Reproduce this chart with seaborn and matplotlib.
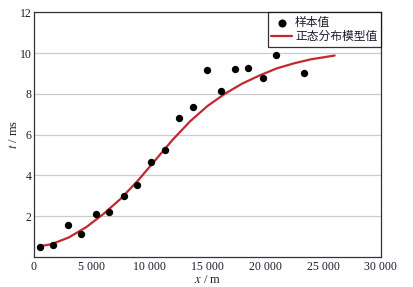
import matplotlib
matplotlib.use("Agg")
import matplotlib.pyplot as plt
import seaborn as sns
import pandas as pd

# Sample values
sample_x = [520, 1670, 2910, 4100, 5340, 6520, 7760, 8910, 10150, 11340,
            12550, 13730, 14970, 16150, 17370, 18550, 19790, 20940, 23360]
sample_t = [0.47, 0.57, 1.57, 1.13, 2.11, 2.19, 3.0, 3.51, 4.64, 5.24,
            6.81, 7.35, 9.18, 8.13, 9.21, 9.27, 8.77, 9.91, 9.01]

# Normal distribution model curve
model_x = [500, 1500, 3000, 4500, 6000, 7500, 9000, 10500, 12000, 13500,
           15000, 16500, 18000, 19500, 21000, 22500, 24000, 26000]
model_t = [0.52, 0.62, 0.95, 1.45, 2.1, 2.85, 3.75, 4.75, 5.75, 6.65,
           7.4, 8.0, 8.5, 8.9, 9.25, 9.5, 9.7, 9.88]

x_ticks = [0, 5000, 10000, 15000, 20000, 25000, 30000]
x_tick_labels = ["0", "5 000", "10 000", "15 000", "20 000", "25 000", "30 000"]
y_ticks = [2, 4, 6, 8, 10, 12]

df_s = pd.DataFrame({"x": sample_x, "t": sample_t})
df_m = pd.DataFrame({"x": model_x, "t": model_t})

sns.set_theme(style="white")
plt.rcParams["font.family"] = ["Liberation Serif", "Noto Sans CJK SC"]
plt.rcParams["mathtext.fontset"] = "stix"

fig = plt.figure(figsize=(4.14, 2.87), dpi=100)
ax = fig.add_axes([0.082, 0.105, 0.838, 0.852])

sns.scatterplot(data=df_s, x="x", y="t", color="black", s=28, marker="o",
                edgecolor="black", linewidth=0, label="样本值", ax=ax, zorder=3)
sns.lineplot(data=df_m, x="x", y="t", color="#c3282e", linewidth=1.6,
             label="正态分布模型值", ax=ax, zorder=2)

ax.set_xlim(0, 30000)
ax.set_ylim(0, 12)
ax.set_xticks(x_ticks)
ax.set_xticklabels(x_tick_labels)
ax.set_yticks(y_ticks)
ax.yaxis.grid(True, color="#cccccc", linewidth=0.9)
ax.set_axisbelow(True)
ax.tick_params(axis="both", length=0, labelsize=8.5, colors="#1c1c30")
ax.tick_params(axis="y", pad=1.5)
ax.tick_params(axis="x", pad=3)

for sp in ax.spines.values():
    sp.set_color("#333333")
    sp.set_linewidth(0.9)

ax.set_xlabel("$x$ / m", fontsize=9, color="#1c1c30", labelpad=1)
ax.set_ylabel("$t$ / ms", fontsize=9, color="#1c1c30", labelpad=0)

leg = ax.legend(loc="upper right", borderaxespad=0, fancybox=False,
                frameon=True, prop={"family": ["Noto Sans CJK SC"], "size": 8.5},
                handlelength=1.7, handletextpad=0.3, borderpad=0.3,
                labelspacing=0.1, markerscale=1.1)
leg.get_frame().set_edgecolor("black")
leg.get_frame().set_linewidth(0.9)
for t in leg.get_texts():
    t.set_color("#1c1c30")

fig.savefig("out.png", dpi=100)
